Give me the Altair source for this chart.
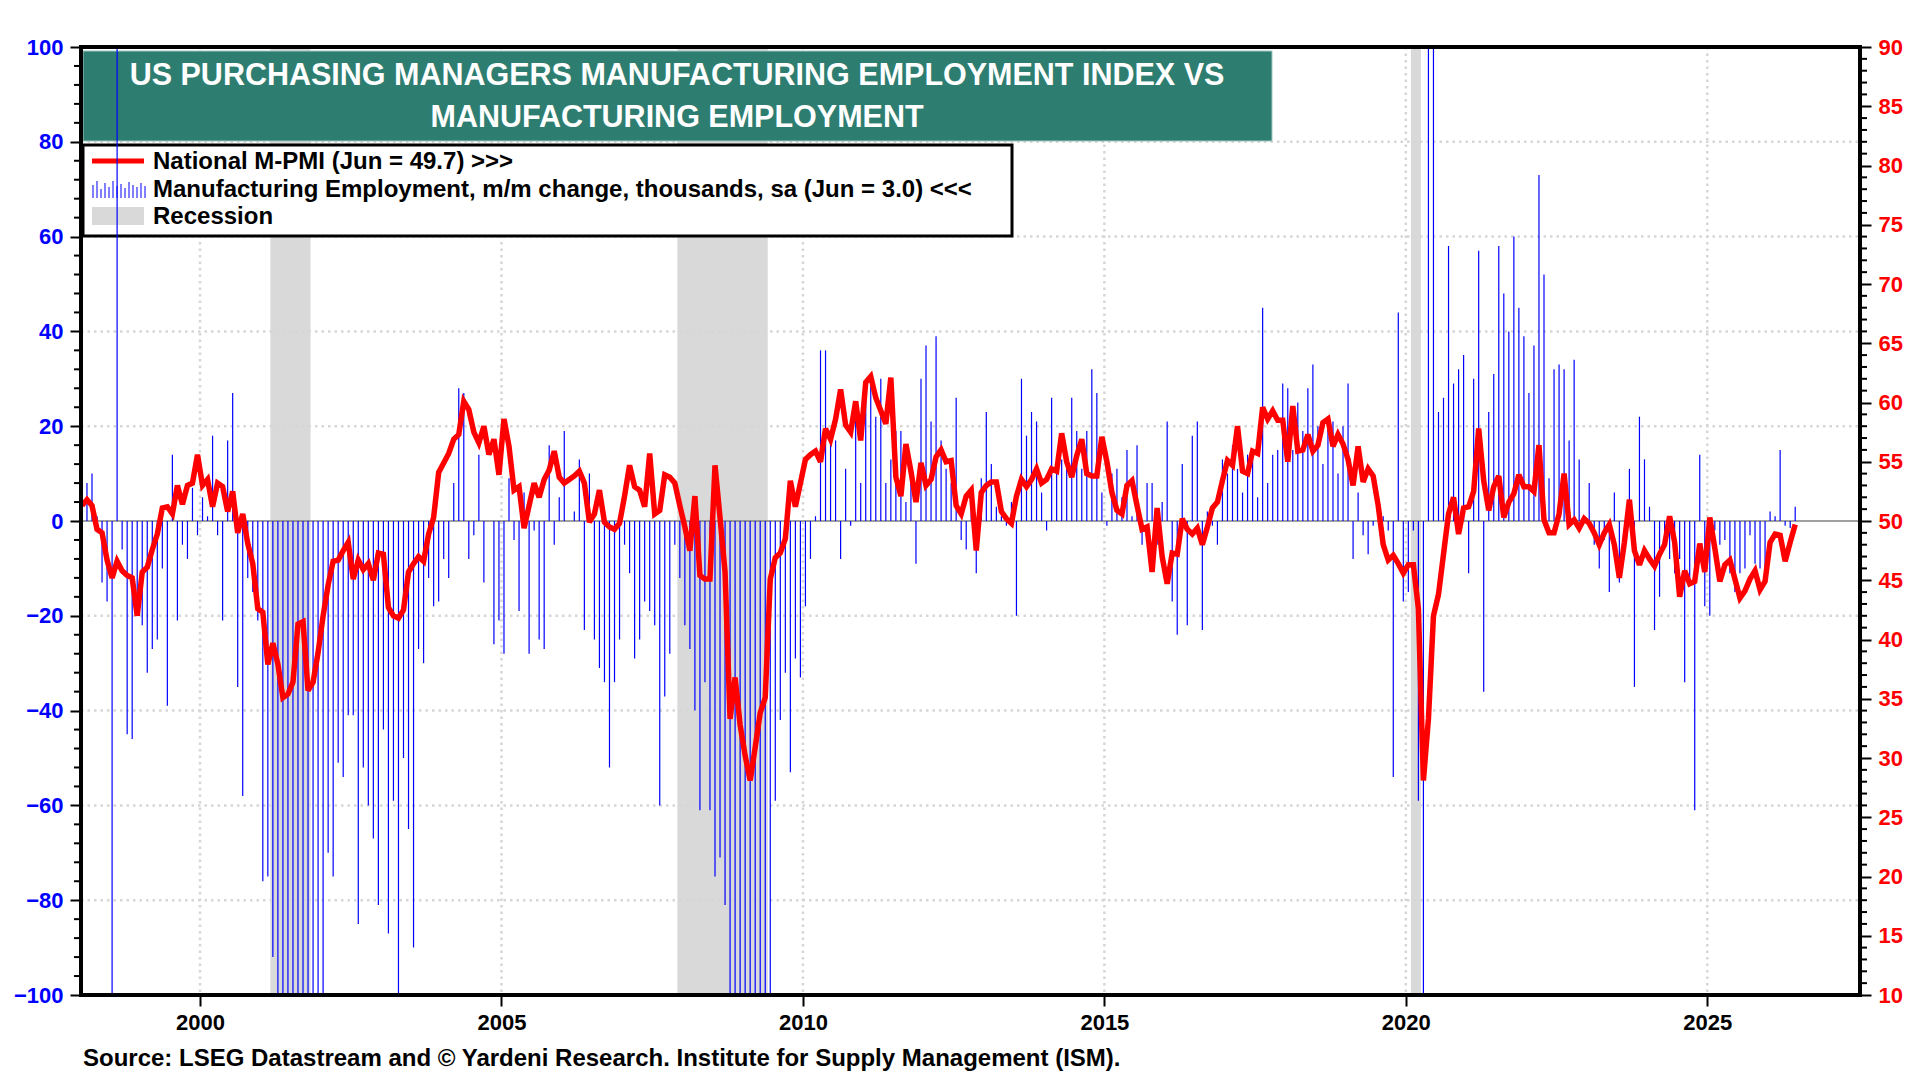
import altair as alt
import pandas as pd

# ---------------- data ----------------
START_YEAR = 1998  # first month = Jan 1998, monthly to Jun 2026

# ISM manufacturing employment index (right axis)
pmi_1998_2007 = [
    51.3, 51.8, 51.3, 49.3, 49.0, 46.7, 45.2, 46.6, 45.8, 45.4, 45.2, 42.0,
    45.7, 46.1, 47.6, 48.9, 51.1, 51.2, 50.6, 53.0, 51.4, 53.0, 53.2, 55.6,
    53.0, 53.5, 51.2, 53.2, 52.9, 50.8, 52.5, 49.0, 50.6, 48.1, 46.4, 42.6,
    42.3, 37.9, 39.7, 37.9, 35.1, 35.4, 36.4, 41.3, 41.5, 35.7, 36.4, 38.9,
    42.0, 44.6, 46.6, 46.7, 47.5, 48.2, 45.1, 46.7, 45.9, 46.4, 45.0, 47.3,
    47.2, 42.7, 42.0, 41.8, 42.5, 45.7, 46.4, 47.0, 46.6, 48.9, 50.3, 54.1,
    54.9, 55.7, 56.9, 57.3, 60.1, 59.4, 57.5, 56.6, 58.0, 55.6, 56.9, 53.9,
    58.6, 56.3, 52.6, 52.9, 49.4, 51.3, 53.2, 52.0, 53.5, 54.3, 55.9, 53.7,
    53.2, 53.5, 53.8, 54.2, 53.2, 49.9, 50.6, 52.6, 49.9, 49.5, 49.3, 49.8,
    52.1, 54.7, 52.9, 52.6, 51.2, 55.7, 50.6, 50.9, 53.9, 53.7, 53.2, 51.3,
]
pmi_2008_2017 = [
    49.5, 47.5, 52.1, 45.4, 45.1, 45.1, 54.7, 50.3, 45.7, 33.3, 36.8, 32.8,
    30.2, 28.1, 30.9, 33.8, 35.1, 45.1, 46.9, 47.3, 48.5, 53.4, 51.2, 53.2,
    55.2, 55.6, 55.9, 55.0, 57.8, 56.9, 58.6, 61.1, 58.1, 57.5, 60.1, 56.8,
    61.7, 62.2, 60.4, 59.3, 58.2, 62.1, 53.7, 52.1, 56.5, 54.2, 51.6, 54.9,
    53.0, 53.5, 55.4, 56.0, 55.0, 55.1, 51.3, 50.6, 52.1, 52.6, 47.5, 52.4,
    53.0, 53.3, 53.3, 50.8, 50.2, 49.8, 52.1, 53.5, 52.9, 53.5, 54.4, 53.2,
    53.5, 54.4, 54.2, 57.4, 55.0, 53.7, 55.5, 56.9, 54.0, 53.8, 53.8, 57.1,
    55.0, 52.4, 50.9, 50.6, 53.0, 53.4, 51.3, 49.3, 49.5, 45.7, 51.1, 47.0,
    44.7, 47.3, 47.2, 50.2, 49.3, 48.9, 49.4, 48.0, 49.5, 51.1, 51.6, 53.4,
    55.1, 54.7, 58.0, 54.2, 54.0, 55.9, 55.7, 59.6, 58.6, 59.3, 58.5, 58.5,
]
pmi_2018_2026 = [
    55.0, 59.7, 55.9, 56.0, 57.3, 55.9, 56.4, 58.3, 58.6, 56.3, 57.3, 56.5,
    55.2, 53.0, 56.3, 53.3, 54.4, 53.8, 51.3, 48.0, 46.7, 47.1, 46.4, 45.6,
    46.3, 46.3, 42.6, 28.1, 33.3, 42.0, 43.8, 47.2, 50.6, 52.0, 48.9, 51.1,
    51.2, 52.5, 57.8, 53.4, 50.9, 52.9, 53.8, 50.3, 51.6, 52.3, 53.9, 52.9,
    52.9, 52.5, 56.4, 50.1, 49.0, 49.0, 50.6, 54.0, 49.7, 50.1, 49.4, 50.2,
    49.8, 49.0, 48.0, 49.0, 49.7, 48.0, 45.2, 48.2, 51.8, 47.5, 46.3, 47.5,
    46.8, 46.2, 47.2, 48.0, 50.4, 48.2, 43.6, 45.8, 44.7, 44.9, 48.1, 45.7,
    50.3, 47.7, 44.9, 46.3, 46.7, 45.1, 43.5, 44.1, 45.1, 45.8, 44.2, 44.9,
    48.2, 48.9, 48.8, 46.6, 48.2, 49.7,
]

# Manufacturing employment, m/m change, thousands (left axis, clipped at +/-100)
emp_1998_2007 = [
    32, 8, 10, 1, -13, -17, -100, 100, -6, -45, -46, -16,
    -22, -32, -27, -25, -10, -39, 14, -21, -5, -8, 7, -3,
    5, 1, 18, -3, -21, 17, 27, -35, -58, -12, -15, -21,
    -76, -75, -92, -100, -100, -100, -100, -100, -100, -100, -100, -100,
    -100, -70, -75, -51, -54, -41, -41, -85, -52, -60, -67, -81,
    -44, -87, -59, -100, -50, -65, -90, -27, -30, -12, -18, -17,
    -8, -12, 8, 28, 27, -8, -3, 14, -13, 0, -26, -21,
    -28, 9, -4, -19, 6, -28, -2, -25, -27, 16, -5, 5,
    19, 0, 2, 13, -23, 10, -25, -31, -34, -52, -34, -25,
    -5, -11, -29, -25, -17, -19, -22, -60, -37, -28, -5, -12,
]
emp_2008_2017 = [
    -22, -27, -40, -61, -34, -61, -75, -71, -81, -100, -100, -100,
    -100, -100, -100, -100, -100, -100, -59, -42, -32, -53, -29, -33,
    -18, -8, 1, 36, 36, 17, 17, -8, 11, -1, 25, 8,
    30, 30, 22, 30, 8, 13, 19, 19, 4, 12, -9, 30,
    37, 21, 39, 17, 11, 8, 26, -4, -6, 5, -11, 9,
    23, 12, 3, 1, -1, 4, -20, 30, 18, 23, 21, 6,
    -2, 26, 12, 13, 11, 26, 19, 11, 19, 32, 27, 6,
    -1, 10, 11, 5, 15, 1, 16, -5, 8, 8, -5, 4,
    21, -17, -24, 12, -22, 18, 21, -23, 2, -1, -5, 13,
    10, 16, 11, 6, 14, 13, 5, 45, 8, 14, 15, 29,
]
emp_2018_2026 = [
    28, 15, 25, 19, 28, 33, 20, 12, 22, 21, 10, 20,
    29, -8, 6, -3, -7, -1, 0, 1, -2, -54, 44, -17,
    -15, -2, -59, -100, 100, 100, 23, 26, 58, 29, 32, 35,
    -11, 30, 57, -36, 23, 31, 58, 48, 40, 60, 45, 39,
    27, 37, 73, 52, 9, 32, 33, 32, 17, 34, 13, 0,
    8, -5, -10, -4, -15, 6, -13, 0, 11, -35, 22, 13,
    3, -23, -16, -4, -8, -11, -8, -34, -13, -61, 14, -18,
    -20, -2, -5, -4, -11, -15, -11, -10, -3, -9, -10, -10,
    2, 1, 15, -1, -1.5, 3.0,
]

# Recessions (decimal years: Mar-Nov 2001, Dec 2007-Jun 2009, Feb-Apr 2020)
recession_start = [2001 + 2 / 12, 2007 + 11 / 12, 2020 + 1 / 12]
recession_end = [2001 + 10 / 12, 2009 + 5 / 12, 2020 + 3 / 12]

year_ticks = [2000, 2005, 2010, 2015, 2020, 2025]
left_ticks = list(range(-100, 101, 20))
left_minor = [v for v in range(-100, 101, 4) if v % 20 != 0]
right_ticks = list(range(10, 91, 5))
right_minor = [v for v in range(10, 91) if v % 5 != 0]
grid_levels = [-80, -60, -40, -20, 20, 40, 60, 80]

title_lines = ["US PURCHASING MANAGERS MANUFACTURING EMPLOYMENT INDEX VS",
               "MANUFACTURING EMPLOYMENT"]
legend_labels = ["National M-PMI (Jun = 49.7) >>>",
                 "Manufacturing Employment, m/m change, thousands, sa (Jun = 3.0) <<<",
                 "Recession"]
source_text = "Source: LSEG Datastream and \u00a9 Yardeni Research. Institute for Supply Management (ISM)."

# ---------------- build tables ----------------
pmi = pmi_1998_2007 + pmi_2008_2017 + pmi_2018_2026
emp = emp_1998_2007 + emp_2008_2017 + emp_2018_2026
t = [START_YEAR + (i + 0.5) / 12 for i in range(len(pmi))]
df = pd.DataFrame({"t": t, "pmi": pmi, "emp": emp, "zero": 0})
rec_df = pd.DataFrame({"start": recession_start, "end": recession_end})
one = pd.DataFrame({"a": [0]})

# ---------------- styling ----------------
W, H = 1779, 948
FONT = "Liberation Sans"
TEAL = "#2E7D71"
GRID = "#D6D6D6"

xscale = alt.Scale(domain=[1998.026, 2027.533], nice=False, zero=False)
lscale = alt.Scale(domain=[-100, 100], nice=False, zero=False)
rscale = alt.Scale(domain=[10, 90], nice=False, zero=False)

xaxis = alt.Axis(values=year_ticks, format="d", labelFont=FONT, labelFontSize=22,
                 labelFontWeight="bold", labelColor="black", tickColor="black",
                 tickWidth=2, tickSize=11, labelPadding=6, domain=False, grid=False,
                 title=None)
laxis = alt.Axis(orient="left", values=left_ticks, labelFont=FONT, labelFontSize=22,
                 labelFontWeight="bold", labelColor="#0000FF", tickColor="black",
                 tickWidth=2, tickSize=11, labelPadding=7, domain=False, grid=False,
                 title=None)
raxis = alt.Axis(orient="right", values=right_ticks, labelFont=FONT, labelFontSize=22,
                 labelFontWeight="bold", labelColor="#FF0000", tickColor="black",
                 tickWidth=2, tickSize=11, labelPadding=7, domain=False, grid=False,
                 title=None)


def X(field):
    return alt.X(field, type="quantitative", scale=xscale, axis=xaxis)


rec = alt.Chart(rec_df).mark_rect(color="#D9D9D9").encode(
    x=X("start"), x2="end", y=alt.value(0), y2=alt.value(H))

vgrid = alt.Chart(pd.DataFrame({"t": year_ticks})).mark_rule(
    color=GRID, strokeWidth=2.5, strokeDash=[2.5, 4]).encode(
    x=X("t"), y=alt.value(0), y2=alt.value(H))

hgrid = alt.Chart(pd.DataFrame({"v": grid_levels})).mark_rule(
    color=GRID, strokeWidth=2.5, strokeDash=[2.5, 4]).encode(
    y=alt.Y("v:Q", scale=lscale, axis=None), x=alt.value(0), x2=alt.value(W))

zero = alt.Chart(pd.DataFrame({"v": [0]})).mark_rule(
    color="#808080", strokeWidth=1.5).encode(
    y=alt.Y("v:Q", scale=lscale, axis=None), x=alt.value(0), x2=alt.value(W))

title_box = alt.Chart(one).mark_rect(color=TEAL, stroke="#9FC7C0", strokeWidth=1).encode(
    x=alt.value(2), x2=alt.value(1191), y=alt.value(4), y2=alt.value(94))
title1 = alt.Chart(one).mark_text(text=title_lines[0], font=FONT, fontSize=30.5,
                                  fontWeight="bold", color="white", align="center",
                                  baseline="middle").encode(
    x=alt.value(596), y=alt.value(29))
title2 = alt.Chart(one).mark_text(text=title_lines[1], font=FONT, fontSize=30.5,
                                  fontWeight="bold", color="white", align="center",
                                  baseline="middle").encode(
    x=alt.value(596), y=alt.value(71))

legend_box = alt.Chart(one).mark_rect(fill="white", stroke="black", strokeWidth=3).encode(
    x=alt.value(2), x2=alt.value(931), y=alt.value(98), y2=alt.value(189))
leg_line = alt.Chart(one).mark_rule(color="#FF0000", strokeWidth=5).encode(
    x=alt.value(11), x2=alt.value(63), y=alt.value(114))
leg_rect = alt.Chart(one).mark_rect(color="#D9D9D9").encode(
    x=alt.value(11), x2=alt.value(63), y=alt.value(160), y2=alt.value(178))
legend_bar_tops = [138, 134, 142, 136, 140, 134, 139, 137, 141, 135, 138, 140, 136, 139]
leg_bars = [
    alt.Chart(one).mark_rule(color="#0000FF", strokeWidth=1).encode(
        x=alt.value(12 + 4 * i), y=alt.value(top), y2=alt.value(151))
    for i, top in enumerate(legend_bar_tops)
]
leg_texts = [
    alt.Chart(one).mark_text(text=lab, font=FONT, fontSize=24, fontWeight="bold",
                             color="black", align="left", baseline="middle").encode(
        x=alt.value(72), y=alt.value(yy))
    for lab, yy in zip(legend_labels, [115, 143, 170])
]

bars = alt.Chart(df).mark_rule(color="#0000FF", strokeWidth=1.2, clip=True).encode(
    x=X("t"), y=alt.Y("emp:Q", scale=lscale, axis=laxis), y2="zero")

line = alt.Chart(df).mark_line(color="#FF0000", strokeWidth=5.5, strokeJoin="miter",
                               strokeMiterLimit=3, clip=True).encode(
    x=X("t"), y=alt.Y("pmi:Q", scale=rscale, axis=raxis))

lminor = alt.Chart(pd.DataFrame({"v": left_minor})).mark_rule(
    color="black", strokeWidth=2).encode(
    y=alt.Y("v:Q", scale=lscale, axis=None), x=alt.value(-7), x2=alt.value(0))
rminor = alt.Chart(pd.DataFrame({"v": right_minor})).mark_rule(
    color="black", strokeWidth=2).encode(
    y=alt.Y("v:Q", scale=rscale, axis=None), x=alt.value(W), x2=alt.value(W + 7))

# plot frame (thick black box)
frame_top = alt.Chart(one).mark_rule(color="black", strokeWidth=4).encode(
    x=alt.value(-2), x2=alt.value(W + 2), y=alt.value(0))
frame_bottom = alt.Chart(one).mark_rule(color="black", strokeWidth=4).encode(
    x=alt.value(-2), x2=alt.value(W + 2), y=alt.value(H))
frame_left = alt.Chart(one).mark_rule(color="black", strokeWidth=4).encode(
    x=alt.value(0), y=alt.value(-2), y2=alt.value(H + 2))
frame_right = alt.Chart(one).mark_rule(color="black", strokeWidth=4).encode(
    x=alt.value(W), y=alt.value(-2), y2=alt.value(H + 2))

source = alt.Chart(one).mark_text(text=source_text, font=FONT, fontSize=24,
                                  fontWeight="bold", color="black", align="left",
                                  baseline="middle").encode(
    x=alt.value(2), y=alt.value(1012))

chart = alt.layer(
    rec, vgrid, hgrid, title_box, title1, title2, legend_box, leg_line, leg_rect,
    *leg_bars, *leg_texts, zero, bars, line, lminor, rminor,
    frame_top, frame_bottom, frame_left, frame_right, source
).resolve_scale(y="independent").properties(
    width=W, height=H,
    autosize=alt.AutoSizeParams(type="none"),
    padding={"left": 73, "top": 39, "right": 50, "bottom": 80},
).configure_view(stroke=None).configure(background="white")

chart.save("out.html", embed_options={"renderer": "svg", "actions": False})
